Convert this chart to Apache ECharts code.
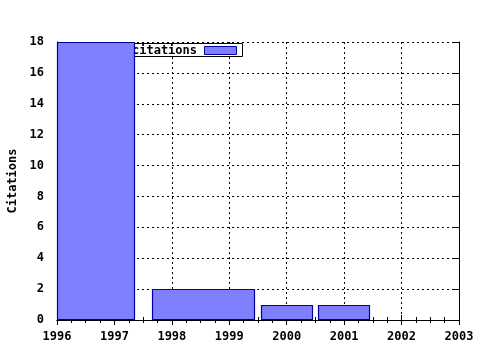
<!DOCTYPE html>
<html><head><meta charset="utf-8">
<script src="https://cdn.jsdelivr.net/npm/echarts@6/dist/echarts.min.js"></script>
<style>html,body{margin:0;padding:0;background:#fff}#c{width:480px;height:350px}</style>
</head><body><div id="c"></div>
<script>
// Bars: start year, end year, citations
const barStart = [1996.0, 1997.65, 1999.55, 2000.55];
const barEnd   = [1997.36, 1999.45, 2000.46, 2001.45];
const citations = [18, 2, 1, 1];
const xTicks = [1996, 1997, 1998, 1999, 2000, 2001, 2002, 2003];
const yTicks = [0, 2, 4, 6, 8, 10, 12, 14, 16, 18];

const FONT = '"DejaVu Sans Mono", monospace';
const data = citations.map((v, i) => [barStart[i], barEnd[i], v]);
const chart = echarts.init(document.getElementById('c'), null, {renderer: 'canvas'});
const axLine = {show: true, lineStyle: {color: '#000', width: 1}};
chart.setOption({
  animation: false,
  backgroundColor: '#fff',
  grid: {left: 57, right: 21, top: 42, bottom: 30, show: false, containLabel: false, outerBoundsMode: 'none'},
  xAxis: [{
    type: 'value', min: xTicks[0], max: xTicks[xTicks.length - 1], interval: 1,
    axisLine: axLine,
    axisTick: {show: true, inside: true, length: 5, lineStyle: {color: '#000'}},
    minorTick: {show: true, splitNumber: 4, length: 3, lineStyle: {color: '#000'}},
    axisLabel: {color: '#000', fontFamily: FONT, fontWeight: 'bold', fontSize: 12, margin: 11, formatter: v => String(v)},
    splitLine: {show: true, lineStyle: {color: '#000', type: [2, 3], width: 1}}
  }, {
    type: 'value', position: 'top', min: xTicks[0], max: xTicks[xTicks.length - 1], interval: 1,
    axisLine: axLine,
    axisTick: {show: true, inside: true, length: 5, lineStyle: {color: '#000'}},
    minorTick: {show: true, splitNumber: 4, length: 3, lineStyle: {color: '#000'}},
    axisLabel: {show: false}, splitLine: {show: false}
  }],
  yAxis: [{
    type: 'value', min: yTicks[0], max: yTicks[yTicks.length - 1], interval: 2,
    name: 'Citations', nameLocation: 'middle', nameGap: 37, nameRotate: 90,
    nameTextStyle: {color: '#000', fontFamily: FONT, fontWeight: 'bold', fontSize: 12},
    axisLine: axLine,
    axisTick: {show: true, inside: true, length: 5, lineStyle: {color: '#000'}},
    axisLabel: {color: '#000', fontFamily: FONT, fontWeight: 'bold', fontSize: 12, margin: 13},
    splitLine: {show: true, lineStyle: {color: '#000', type: [2, 3], width: 1}}
  }, {
    type: 'value', position: 'right', min: yTicks[0], max: yTicks[yTicks.length - 1], interval: 2,
    axisLine: axLine,
    axisTick: {show: true, inside: true, length: 5, lineStyle: {color: '#000'}},
    axisLabel: {show: false}, splitLine: {show: false}
  }],
  graphic: [
    {type: 'rect', z: 50, shape: {x: 100.5, y: 43.5, width: 142, height: 13}, style: {fill: '#fff', stroke: '#000', lineWidth: 1}},
    {type: 'text', z: 51, style: {x: 197, y: 50.5, text: 'citations', fill: '#000', font: 'bold 12px ' + FONT, textAlign: 'right', textVerticalAlign: 'middle'}},
    {type: 'rect', z: 51, shape: {x: 204.5, y: 46.5, width: 32, height: 8}, style: {fill: '#8080ff', stroke: '#00009a', lineWidth: 1}}
  ],
  series: [{
    type: 'custom', z: 100, name: 'citations',
    data: data,
    encode: {x: [0, 1], y: 2},
    renderItem: function (params, api) {
      const p0 = api.coord([api.value(0), api.value(2)]);
      const p1 = api.coord([api.value(1), 0]);
      return {
        type: 'rect',
        shape: {x: Math.round(p0[0]) + 0.5, y: Math.round(p0[1]) + 0.5, width: Math.round(p1[0] - p0[0]) - 1, height: Math.round(p1[1] - p0[1]) - 1},
        style: {fill: '#8080ff', stroke: '#00009a', lineWidth: 1.2}
      };
    }
  }]
});
</script></body></html>
